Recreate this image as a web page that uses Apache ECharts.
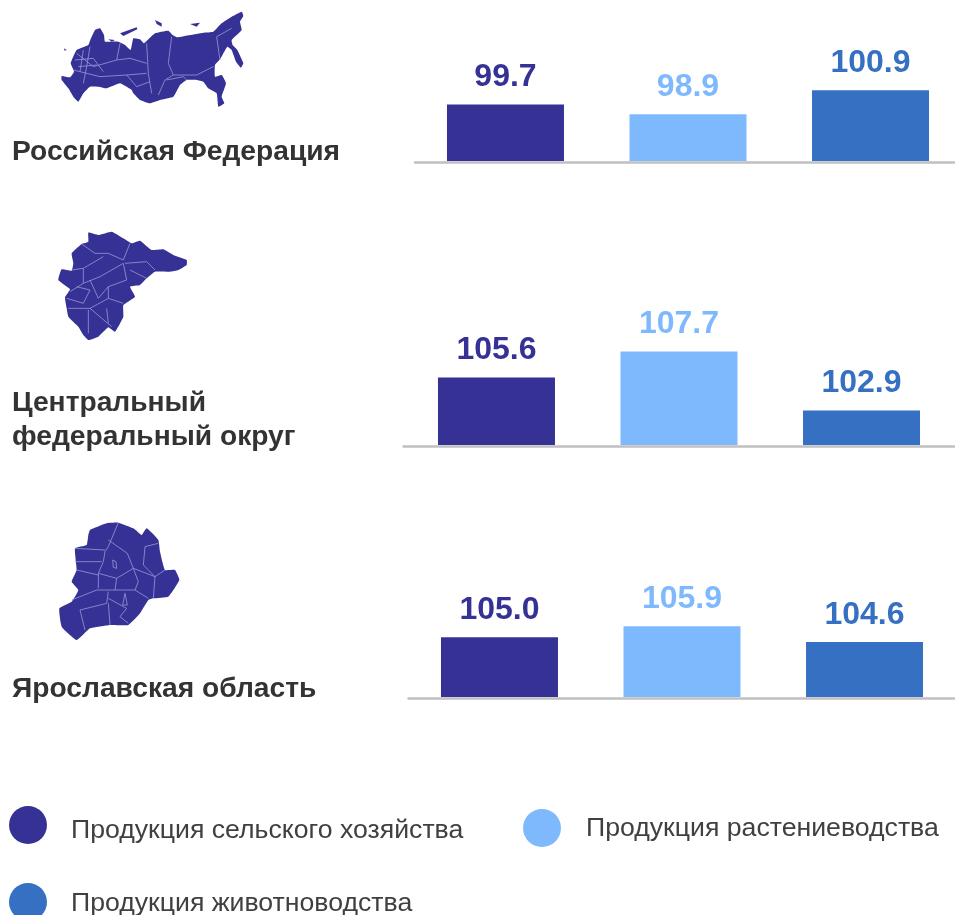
<!DOCTYPE html>
<html><head><meta charset="utf-8">
<style>html,body{margin:0;padding:0;background:#fff;overflow:hidden}#c{width:955px;height:915px}</style>
<script src="https://cdn.jsdelivr.net/npm/echarts@6/dist/echarts.min.js"></script>
</head><body><div id="c"></div>
<script>
const products = ['Продукция сельского хозяйства','Продукция растениеводства','Продукция животноводства'];
const colors = ['#363195','#7fb9fd','#3670c2'];
const regions = ['Российская Федерация','Центральный\nфедеральный округ','Ярославская область'];
const agriculture = [99.7,105.6,105.0];
const crops = [98.9,107.7,105.9];
const livestock = [100.9,102.9,104.6];

const chart = echarts.init(document.getElementById('c'));
const grids = [
 {left:415,width:546,top:65,height:96,outerBoundsMode:'none'},
 {left:403.5,width:551,top:346.7,height:98.3,outerBoundsMode:'none'},
 {left:408.5,width:547,top:599.4,height:97.6,outerBoundsMode:'none'}
];
const mins=[95,100.1,100.1], maxs=[103,108.1,108.1];
const allValues=[agriculture,crops,livestock];
const series=[];
products.forEach((p,i)=>{regions.forEach((r,g)=>{
 series.push({type:'bar',name:p,xAxisIndex:g,yAxisIndex:g,data:[allValues[i][g]],barWidth:117,barGap:'56%',
  itemStyle:{color:colors[i]},silent:true,
  label:{show:true,position:'top',distance:11,color:colors[i],fontFamily:'Liberation Sans',fontWeight:'bold',fontSize:32,
   formatter:o=>o.value.toFixed(1)}});
});});

// decorative map silhouettes (outline, region lines), traced in local pixels
const O='#363195', L='#9a98d6';
function sil(ox,oy,outline,lines,extra){
 const kids=[{type:'polygon',shape:{points:outline,smooth:0.12},style:{fill:O}}];
 (extra||[]).forEach(e=>kids.push({type:'polygon',shape:{points:e},style:{fill:O}}));
 lines.forEach(l=>kids.push({type:'polyline',shape:{points:l},style:{stroke:L,lineWidth:2.4,fill:null}}));
 return {type:'group',x:ox,y:oy,scaleX:1/3,scaleY:1/3,silent:true,children:kids};
}
const ruOutline=[[65,228],[90,232],[102,215],[92,190],[110,150],[145,135],[150,122],[165,90],[180,85],[192,105],[195,125],[235,125],[255,135],[272,150],[280,115],[300,118],[312,130],[345,100],[385,92],[398,105],[412,112],[450,105],[490,98],[520,95],[545,70],[575,50],[605,35],[610,48],[600,65],[605,90],[575,120],[578,135],[592,150],[610,190],[603,203],[588,185],[575,150],[562,140],[540,178],[525,195],[525,230],[545,225],[558,250],[545,290],[553,310],[535,320],[530,280],[505,265],[490,245],[470,240],[440,240],[420,255],[400,290],[360,300],[330,310],[300,300],[280,280],[275,270],[240,250],[200,265],[175,260],[150,260],[130,280],[115,305],[100,290],[85,265],[65,240]];
const ruLines=[[[395,110],[385,190],[400,225],[375,240],[355,285]],[[320,130],[325,220],[335,280]],[[230,180],[270,175],[320,190]],[[110,160],[160,200],[230,180],[240,130]],[[100,210],[180,230],[260,225],[320,220]],[[400,225],[470,225],[520,200]],[[540,180],[530,110],[575,85]],[[440,240],[430,230],[380,240]],[[150,140],[140,200],[130,250]],[[260,225],[290,260],[330,245]],[[105,180],[160,175],[190,215]],[[115,200],[170,195]],[[130,150],[120,215]]];
const ruExtra=[[[240,100],[290,82],[292,88],[250,108]],[[345,60],[365,70],[365,80],[350,72]],[[450,72],[480,68],[470,80]],[[72,145],[80,150],[74,152]],[[205,118],[225,120],[215,125]]];
const cfOutline=[[145,38],[175,45],[215,35],[250,55],[275,70],[300,62],[335,90],[370,88],[400,105],[440,120],[440,135],[415,150],[390,155],[345,155],[320,175],[300,195],[270,200],[285,230],[250,255],[250,290],[225,335],[205,322],[175,350],[145,360],[130,345],[115,320],[85,290],[80,265],[75,232],[90,208],[55,180],[65,148],[95,152],[100,130],[95,100],[125,72],[145,65]];
const cfLines=[[[125,72],[165,100],[205,100],[250,120],[270,70]],[[95,150],[130,145],[190,110]],[[130,145],[130,190],[90,215]],[[130,190],[180,170],[250,130]],[[250,130],[260,180],[205,200],[175,235],[150,180]],[[110,200],[150,210],[130,250],[80,235]],[[205,200],[205,235],[250,250]],[[150,265],[215,320]],[[205,235],[150,265],[85,265]],[[145,270],[145,340]],[[200,265],[205,310]],[[255,130],[320,125],[345,150]],[[270,150],[320,175]]];
const yaOutline=[[150,60],[200,40],[235,38],[280,55],[305,75],[320,55],[355,90],[360,125],[375,180],[405,180],[418,210],[385,260],[340,265],[325,270],[300,310],[265,345],[210,345],[150,355],[110,390],[65,350],[58,295],[95,275],[115,240],[95,215],[110,180],[105,115],[140,105],[145,75]];
const yaLines=[[[235,38],[205,110],[195,125],[190,155],[175,190],[175,235]],[[205,90],[262,130],[280,175],[295,215],[285,240],[325,265]],[[105,115],[195,120]],[[105,155],[185,155]],[[110,180],[175,195]],[[175,190],[230,205],[280,175],[345,200],[340,265]],[[355,100],[315,110],[310,165],[345,200],[375,180]],[[95,270],[170,240],[285,240]],[[120,300],[200,280],[205,245]],[[120,300],[135,360]],[[205,280],[210,345]],[[205,265],[260,295],[240,320],[265,340]],[[230,205],[225,240]],[[218,150],[228,155],[230,175],[220,172],[218,150]],[[255,250],[262,285],[248,285],[255,250]]];

const titles=regions.map((r,i)=>({text:r,left:12,top:[135,386,672][i],padding:0,
 textStyle:{fontFamily:'Liberation Sans',fontWeight:'bold',fontSize:28.2,color:'#333333',lineHeight:34}}));

chart.setOption({
 animation:false,backgroundColor:'#fff',
 title:titles,
 grid:grids,
 xAxis:regions.map((r,g)=>({gridIndex:g,type:'category',data:[r.replace('\n',' ')],offset:1,axisTick:{show:false},axisLabel:{show:false},
   axisLine:{show:true,lineStyle:{color:'#c0c0c0',width:2.5}}})),
 yAxis:regions.map((r,g)=>({gridIndex:g,type:'value',min:mins[g],max:maxs[g],show:false,splitLine:{show:false}})),
 legend:[
  {data:[products[0]],left:9,top:806,selectedMode:false,pt:12,pl:19},
  {data:[products[1]],left:523,top:809,selectedMode:false,pt:2,pl:20},
  {data:[products[2]],left:9,top:883,selectedMode:false,pt:4,pl:19}
 ].map(l=>{const pt=l.pt,pl=l.pl;delete l.pt;delete l.pl;return Object.assign(l,{icon:'circle',itemWidth:38,itemHeight:38,padding:0,
   formatter:n=>'{a|'+n+'}',
   textStyle:{fontFamily:'Liberation Sans',fontSize:26.67,color:'#404040',
     rich:{a:{fontFamily:'Liberation Sans',fontSize:26.67,color:'#404040',padding:[pt,0,0,pl]}}}});}),
 series,
 graphic:[sil(40,0,ruOutline,ruLines,ruExtra),sil(40,220,cfOutline,cfLines),sil(40,510,yaOutline,yaLines)]
});
</script></body></html>
